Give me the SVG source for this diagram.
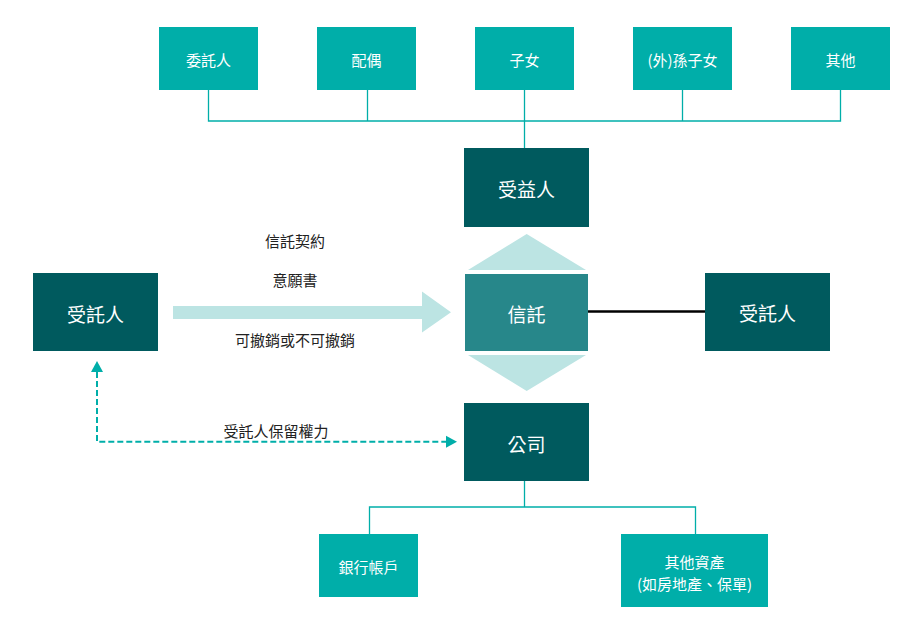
<svg xmlns="http://www.w3.org/2000/svg" width="916" height="639" viewBox="0 0 916 639">
<defs>
<style>
text{font-family:"Noto Sans CJK TC","Noto Sans",sans-serif;text-anchor:middle;dominant-baseline:central}
.lt{fill:#00AEA9}
.dk{fill:#005A5E}
.tr{fill:#27878A}
.pale{fill:#BCE4E3}
.w14{fill:#fff;font-size:15px}
.w18{fill:#fff;font-size:19px}
.lbl{fill:#222;font-size:15px}
.conn{fill:none;stroke:#00AEA9;stroke-width:1.3}
.dash{fill:none;stroke:#00AEA9;stroke-width:2;stroke-dasharray:6 3}
</style>
</defs>
<rect width="916" height="639" fill="#fff"/>
<g id="connectors">
<polyline class="conn" points="208.5,90 208.5,121 840.5,121 840.5,90"/>
<line class="conn" x1="367.5" y1="90" x2="367.5" y2="121"/>
<line class="conn" x1="524.5" y1="90" x2="524.5" y2="148"/>
<line class="conn" x1="682.5" y1="90" x2="682.5" y2="121"/>
<line x1="588" y1="311.5" x2="705" y2="311.5" stroke="#000" stroke-width="2.5"/>
<line class="conn" x1="524.5" y1="481" x2="524.5" y2="507"/>
<polyline class="conn" points="369.5,534 369.5,507 695.5,507 695.5,534"/>
<polygon class="pale" points="173,306 422,306 422,291.5 451,312.3 422,332.5 422,319 173,319"/>
<polygon class="pale" points="526.7,234 586,270 468,270"/>
<polygon class="pale" points="468,355 586,355 526.7,391"/>
<polyline class="dash" points="97,372 97,441.7 447,441.7"/>
<polygon points="91,372 97,361 103,372" fill="#00AEA9"/>
<polygon points="446,435.7 457,441.7 446,447.7" fill="#00AEA9"/>
<text class="lbl" x="295" y="240">信託契約</text>
<text class="lbl" x="295" y="279">意願書</text>
<text class="lbl" x="295" y="339">可撤銷或不可撤銷</text>
<text class="lbl" x="276" y="430">受託人保留權力</text>
</g>
<g id="n1"><rect class="lt" x="159" y="27" width="99" height="63"/><text class="w14" x="208.5" y="59">委託人</text></g>
<g id="n2"><rect class="lt" x="317" y="27" width="99" height="63"/><text class="w14" x="366.5" y="59">配偶</text></g>
<g id="n3"><rect class="lt" x="475" y="27" width="99" height="63"/><text class="w14" x="524.5" y="59">子女</text></g>
<g id="n4"><rect class="lt" x="633" y="27" width="99" height="63"/><text class="w14" x="682.5" y="59">(外)孫子女</text></g>
<g id="n5"><rect class="lt" x="791" y="27" width="99" height="63"/><text class="w14" x="840.5" y="59">其他</text></g>
<g id="beneficiary"><rect class="dk" x="464" y="148" width="125" height="79"/><text class="w18" x="526.5" y="188">受益人</text></g>
<g id="settlor"><rect class="dk" x="33" y="273" width="125" height="78"/><text class="w18" x="95.5" y="313">受託人</text></g>
<g id="trust"><rect class="tr" x="465" y="274" width="123" height="77"/><text class="w18" x="526.5" y="313">信託</text></g>
<g id="trustee"><rect class="dk" x="705" y="273" width="125" height="78"/><text class="w18" x="767.5" y="312">受託人</text></g>
<g id="company"><rect class="dk" x="464" y="403" width="125" height="78"/><text class="w18" x="526.5" y="443">公司</text></g>
<g id="bank"><rect class="lt" x="319" y="534" width="99" height="63"/><text class="w14" x="368.5" y="566">銀行帳戶</text></g>
<g id="assets"><rect class="lt" x="621" y="534" width="147" height="73"/><text class="w14" x="694.5" y="561">其他資產</text><text class="w14" x="694.5" y="583">(如房地產、保單)</text></g>
</svg>
